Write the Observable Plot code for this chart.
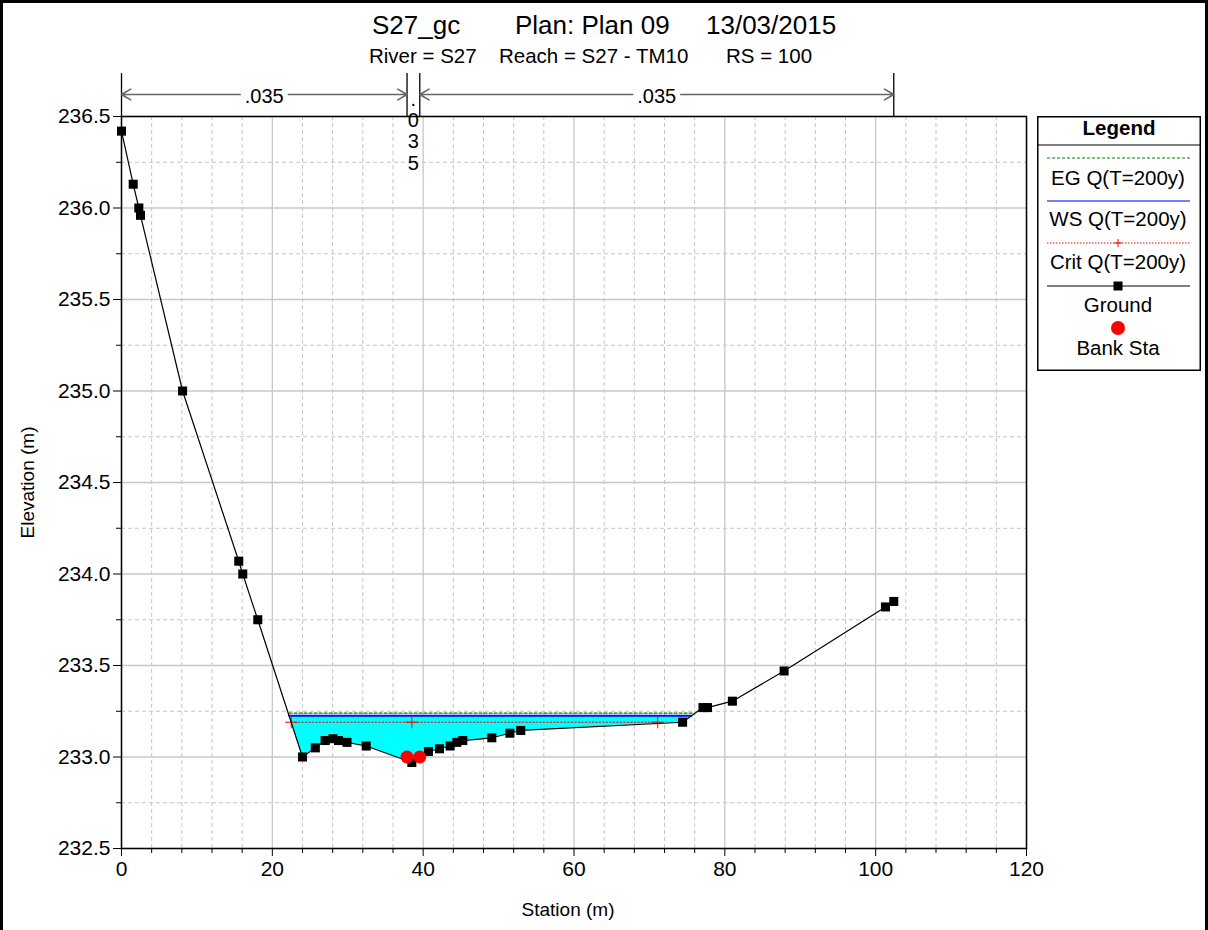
<!DOCTYPE html>
<html>
<head>
<meta charset="utf-8">
<script src="https://cdn.jsdelivr.net/npm/d3@7"></script>
<script src="https://cdn.jsdelivr.net/npm/@observablehq/plot@0.6"></script>
<style>
  html, body { margin: 0; padding: 0; background: #fff; }
  #wrap { position: relative; width: 1208px; height: 930px; overflow: hidden; font-family: "Liberation Sans", Arial, sans-serif; color: #000; }
  #wrap svg.plot { position: absolute; left: 0; top: 0; }
  .title { position: absolute; white-space: pre; transform: translate(0, -50%); line-height: 1; }
  #border { position: absolute; left: 0; top: 0; width: 1208px; height: 940px; box-sizing: border-box; border: 3px solid #000; pointer-events: none; }
  #legend { position: absolute; left: 1037px; top: 116px; }
</style>
</head>
<body>
<div id="wrap">
  <div id="chart"></div>
  <div class="title" style="left:372px; top:25px; font-size:26px;">S27_gc</div>
  <div class="title" style="left:515px; top:25px; font-size:26px;">Plan: Plan 09</div>
  <div class="title" style="left:706px; top:25px; font-size:26px;">13/03/2015</div>
  <div class="title" style="left:369px; top:56px; font-size:20.5px;">River = S27</div>
  <div class="title" style="left:499px; top:56px; font-size:20.5px;">Reach = S27 - TM10</div>
  <div class="title" style="left:726px; top:56px; font-size:20.5px;">RS = 100</div>
  <div id="legend"></div>
  <div id="border"></div>
</div>
<script>
// ---------- data ----------
const groundStation = [0, 1.55, 2.3, 2.52, 8.1, 15.55, 16.08, 18.07, 24.0, 25.7, 27.0, 28.04, 28.78, 29.9, 32.45, 38.5, 40.7, 42.16, 43.58, 44.46, 45.26, 49.1, 51.5, 52.94, 74.4, 77.1, 77.7, 81.0, 87.86, 101.3, 102.4];
const groundElev    = [236.42, 236.13, 236.0, 235.96, 235.0, 234.07, 234.0, 233.75, 233.0, 233.05, 233.09, 233.10, 233.09, 233.08, 233.06, 232.97, 233.03, 233.045, 233.06, 233.08, 233.09, 233.105, 233.13, 233.145, 233.19, 233.27, 233.27, 233.305, 233.47, 233.82, 233.85];

const bankStation = [37.86, 39.55];
const bankElev    = [233.0, 233.0];

const wsElev = 233.225;   // WS Q(T=200y)
const egElev = 233.24;    // EG Q(T=200y)
const critElev = 233.19;  // Crit Q(T=200y)
const critStation = [22.5, 38.5, 71.1];

const nStart = [0, 37.86, 39.55];
const nEnd   = [37.86, 39.55, 102.4];
const nValue = [".035", ".035", ".035"];

const xTicks = [0, 20, 40, 60, 80, 100, 120];
const yTicks = [232.5, 233.0, 233.5, 234.0, 234.5, 235.0, 235.5, 236.0, 236.5];

// ---------- derived ----------
const W = 1208, H = 930;
const mL = 121, mR = 182, mT = 116, mB = 82;
const xDom = [0, 120], yDom = [232.5, 236.5];
const pxX = (W - mL - mR) / (xDom[1] - xDom[0]);
const pxY = (H - mT - mB) / (yDom[1] - yDom[0]);

const ground = groundStation.map((s, i) => ({station: s, elev: groundElev[i]}));
const bank = bankStation.map((s, i) => ({station: s, elev: bankElev[i]}));

// water edges where WS meets ground
function crossings(level) {
  const xs = [];
  for (let i = 1; i < ground.length; i++) {
    const a = ground[i - 1], b = ground[i];
    if ((a.elev - level) * (b.elev - level) < 0) {
      const t = (level - a.elev) / (b.elev - a.elev);
      xs.push(a.station + t * (b.station - a.station));
    }
  }
  return xs;
}
const cr = crossings(wsElev);
const wsL = cr[0], wsR = cr[cr.length - 1];
const water = [{station: wsL, g: wsElev, ws: wsElev},
  ...ground.filter(d => d.station > wsL && d.station < wsR).map(d => ({station: d.station, g: d.elev, ws: wsElev})),
  {station: wsR, g: wsElev, ws: wsElev}];
const wsLine = [{station: wsL, elev: wsElev}, {station: wsR, elev: wsElev}];
const egLine = [{station: wsL, elev: egElev}, {station: wsR + 0.3, elev: egElev}];
const critPts = critStation.map(s => ({station: s, elev: critElev}));

const xMinor = d3.range(0, 121, 4).filter(v => !xTicks.includes(v));
const yMinor = d3.range(232.5, 236.51, 0.25).map(v => +v.toFixed(2)).filter(v => !yTicks.includes(v));

// n-value annotation
const regions = nStart.map((s, i) => ({from: s, to: nEnd[i], n: nValue[i], mid: (s + nEnd[i]) / 2, wide: (nEnd[i] - s) * pxX > 40}));
const annTop = yDom[1] + 43 / pxY;
const arrowY = yDom[1] + 22 / pxY;
const gap = 24 / pxX;
const boundaries = Array.from(new Set([...nStart, ...nEnd]));
const arrows = regions.filter(r => r.wide).flatMap(r => [
  {x1: r.mid - gap, x2: r.from, y: arrowY},
  {x1: r.mid + gap, x2: r.to, y: arrowY}
]);
const narrow = regions.filter(r => !r.wide).map(r => ({x: r.mid, text: r.n.split("").join("\n")}));

const font = "'Liberation Sans', Arial, sans-serif";

const chart = Plot.plot({
  width: W, height: H,
  marginLeft: mL, marginRight: mR, marginTop: mT, marginBottom: mB,
  x: {domain: xDom},
  y: {domain: yDom},
  style: {fontFamily: font, color: "#000", background: "transparent", overflow: "visible"},
  marks: [
    // grid
    Plot.ruleX(xMinor, {stroke: "#c4c4c4", strokeDasharray: "4,3", strokeWidth: 1}),
    Plot.ruleY(yMinor, {stroke: "#c4c4c4", strokeDasharray: "4,3", strokeWidth: 1}),
    Plot.ruleX(xTicks, {stroke: "#c8c8c8", strokeWidth: 1.3}),
    Plot.ruleY(yTicks, {stroke: "#c8c8c8", strokeWidth: 1.3}),
    // water
    Plot.areaY(water, {x: "station", y1: "g", y2: "ws", fill: "#00ffff", fillOpacity: 1}),
    Plot.line(egLine, {x: "station", y: "elev", stroke: "#008000", strokeWidth: 1.3, strokeDasharray: "3,2"}),
    Plot.line(wsLine, {x: "station", y: "elev", stroke: "#1010e0", strokeWidth: 2}),
    Plot.line(critPts, {x: "station", y: "elev", stroke: "#ff0000", strokeWidth: 1, strokeDasharray: "1.5,2"}),
    Plot.dot(critPts, {x: "station", y: "elev", symbol: "plus", stroke: "#ff0000", r: 4, strokeWidth: 1}),
    // ground
    Plot.line(ground, {x: "station", y: "elev", stroke: "#000", strokeWidth: 1.2}),
    Plot.dot(ground, {x: "station", y: "elev", symbol: "square", r: 5.1, fill: "#000", stroke: "none"}),
    Plot.dot(bank, {x: "station", y: "elev", r: 6.5, fill: "#ff0000", stroke: "none"}),
    // frame & axes
    Plot.frame({stroke: "#000", strokeWidth: 1.5}),
    Plot.axisX(xTicks, {tickSize: 8, tickPadding: 5, fontSize: 21, label: null, stroke: "#000"}),
    Plot.axisX(xMinor, {tickSize: 5, tickFormat: () => "", label: null, stroke: "#000"}),
    Plot.axisY(yTicks, {tickSize: 8, tickPadding: 3, fontSize: 21, label: null, tickFormat: d => d.toFixed(1), stroke: "#000"}),
    Plot.axisY(yMinor, {tickSize: 5, tickFormat: () => "", label: null, stroke: "#000"}),
    Plot.text(["Station (m)"], {frameAnchor: "bottom", dy: 67, dx: -6, fontSize: 19, textAnchor: "middle", fill: "#000"}),
    Plot.text(["Elevation (m)"], {frameAnchor: "left", dx: -94, rotate: -90, fontSize: 19, textAnchor: "middle", fill: "#000"}),
    // n-value annotation
    Plot.ruleX(boundaries, {y1: yDom[1], y2: annTop, stroke: "#000", strokeWidth: 1.3}),
    Plot.arrow(arrows, {x1: "x1", x2: "x2", y1: "y", y2: "y", stroke: "#666", strokeWidth: 1.6, headLength: 10, headAngle: 60}),
    Plot.text(regions.filter(r => r.wide), {x: "mid", y: arrowY, text: "n", fontSize: 20, fill: "#000", dy: 2}),
    Plot.text(narrow, {x: "x", y: yDom[1], text: "text", fontSize: 20, lineAnchor: "top", lineHeight: 1.07, dy: -26, fill: "#000"})
  ]
});
chart.classList.add("plot");
document.getElementById("chart").appendChild(chart);

// ---------- legend ----------
const legendItems = [
  {label: "EG Q(T=200y)", kind: "eg"},
  {label: "WS Q(T=200y)", kind: "ws"},
  {label: "Crit Q(T=200y)", kind: "crit"},
  {label: "Ground", kind: "ground"},
  {label: "Bank Sta", kind: "bank"}
];
const LW = 164, LH = 255;
const lg = d3.create("svg").attr("width", LW).attr("height", LH).style("font-family", font).style("overflow", "visible");
lg.append("rect").attr("x", 0.75).attr("y", 0.75).attr("width", LW - 1.5).attr("height", LH - 1.5).attr("fill", "#fff").attr("stroke", "#000").attr("stroke-width", 1.5);
lg.append("text").attr("x", LW / 2).attr("y", 12).attr("dy", "0.35em").attr("text-anchor", "middle").attr("font-weight", "bold").attr("font-size", 20.5).text("Legend");
lg.append("line").attr("x1", 0).attr("x2", LW).attr("y1", 29).attr("y2", 29).attr("stroke", "#000").attr("stroke-width", 1.2);
const sampleY = [42, 85, 127, 170, 212];
const textY = [62, 103, 146, 189, 232];
legendItems.forEach((it, i) => {
  const y = sampleY[i];
  if (it.kind === "eg") lg.append("line").attr("x1", 10).attr("x2", 153).attr("y1", y).attr("y2", y).attr("stroke", "#008000").attr("stroke-width", 1.2).attr("stroke-dasharray", "3,2");
  if (it.kind === "ws") lg.append("line").attr("x1", 10).attr("x2", 153).attr("y1", y).attr("y2", y).attr("stroke", "#4455ff").attr("stroke-width", 1.5);
  if (it.kind === "crit") {
    lg.append("line").attr("x1", 10).attr("x2", 153).attr("y1", y).attr("y2", y).attr("stroke", "#ff0000").attr("stroke-width", 1).attr("stroke-dasharray", "1.5,1.5");
    lg.append("path").attr("d", `M${81 - 4},${y}h8M81,${y - 4}v8`).attr("stroke", "#ff0000").attr("stroke-width", 1);
  }
  if (it.kind === "ground") {
    lg.append("line").attr("x1", 10).attr("x2", 153).attr("y1", y).attr("y2", y).attr("stroke", "#000").attr("stroke-width", 1.2);
    lg.append("rect").attr("x", 81 - 4.5).attr("y", y - 4.5).attr("width", 9).attr("height", 9).attr("fill", "#000");
  }
  if (it.kind === "bank") lg.append("circle").attr("cx", 81).attr("cy", y).attr("r", 7).attr("fill", "#ff0000");
  lg.append("text").attr("x", 81).attr("y", textY[i]).attr("dy", "0.35em").attr("text-anchor", "middle").attr("font-size", 20.5).text(it.label);
});
document.getElementById("legend").appendChild(lg.node());
</script>
</body>
</html>
